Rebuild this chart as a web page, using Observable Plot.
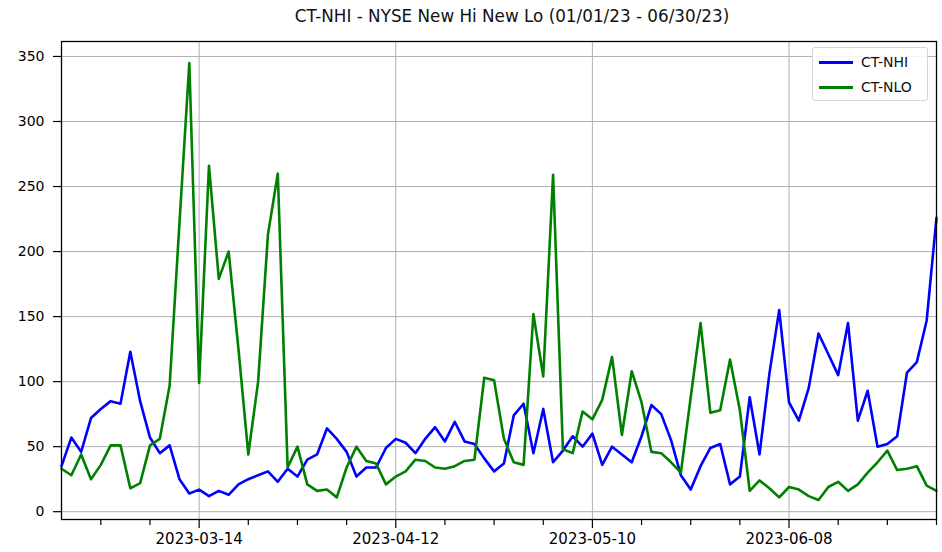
<!DOCTYPE html>
<html>
<head>
<meta charset="utf-8">
<script src="https://cdn.jsdelivr.net/npm/d3@7"></script>
<script src="https://cdn.jsdelivr.net/npm/@observablehq/plot@0.6"></script>
<style>
  html, body { margin: 0; padding: 0; background: white; }
  #wrap { position: relative; width: 942px; height: 552px; font-family: "DejaVu Sans", sans-serif; }
  #title { height: 30px; line-height: 32px; font-size: 16.8px; text-align: center; padding-left: 82px; box-sizing: border-box; width: 942px; color: #111; white-space: nowrap; }
  #legend { position: absolute; left: 812px; top: 47px; width: 116px; height: 54px; box-sizing: border-box;
            border: 1px solid #d6d6d6; border-radius: 3px; background: rgba(255,255,255,0.85); }
  .lg-line { position: absolute; left: 6px; width: 34px; height: 3px; }
  .lg-text { position: absolute; left: 48px; font-size: 14px; line-height: 16px; color: #111; }
</style>
</head>
<body>
<div id="wrap">
  <div id="title">CT-NHI - NYSE New Hi New Lo (01/01/23 - 06/30/23)</div>
  <div id="chart"></div>
  <div id="legend"></div>
</div>
<script>
// Trading days shown on the x axis
const dates = [
  "2023-02-22","2023-02-23","2023-02-24","2023-02-27","2023-02-28","2023-03-01","2023-03-02","2023-03-03",
  "2023-03-06","2023-03-07","2023-03-08","2023-03-09","2023-03-10","2023-03-13","2023-03-14","2023-03-15",
  "2023-03-16","2023-03-17","2023-03-20","2023-03-21","2023-03-22","2023-03-23","2023-03-24","2023-03-27",
  "2023-03-28","2023-03-29","2023-03-30","2023-03-31","2023-04-03","2023-04-04","2023-04-05","2023-04-06",
  "2023-04-10","2023-04-11","2023-04-12","2023-04-13","2023-04-14","2023-04-17","2023-04-18","2023-04-19",
  "2023-04-20","2023-04-21","2023-04-24","2023-04-25","2023-04-26","2023-04-27","2023-04-28","2023-05-01",
  "2023-05-02","2023-05-03","2023-05-04","2023-05-05","2023-05-08","2023-05-09","2023-05-10","2023-05-11",
  "2023-05-12","2023-05-15","2023-05-16","2023-05-17","2023-05-18","2023-05-19","2023-05-22","2023-05-23",
  "2023-05-24","2023-05-25","2023-05-26","2023-05-30","2023-05-31","2023-06-01","2023-06-02","2023-06-05",
  "2023-06-06","2023-06-07","2023-06-08","2023-06-09","2023-06-12","2023-06-13","2023-06-14","2023-06-15",
  "2023-06-16","2023-06-20","2023-06-21","2023-06-22","2023-06-23","2023-06-26","2023-06-27","2023-06-28",
  "2023-06-29","2023-06-30"
];

// CT-NHI (new highs)
const nhi = [
  35, 57, 46, 72, 79, 85, 83, 123, 85, 57, 45, 51, 25, 14, 17, 12, 16, 13, 21, 25,
  28, 31, 23, 33, 27, 40, 44, 64, 56, 46, 27, 34, 34, 49, 56, 53, 45, 56, 65, 54,
  69, 54, 52, 41, 31, 37, 74, 83, 45, 79, 38, 47, 58, 50, 60, 36, 50, 44, 38, 58,
  82, 75, 55, 28, 17, 35, 49, 52, 21, 27, 88, 44, 106, 155, 84, 70, 95, 137, 121, 105,
  145, 70, 93, 50, 52, 58, 107, 115, 147, 226
];

// CT-NLO (new lows)
const nlo = [
  33, 28, 44, 25, 36, 51, 51, 18, 22, 51, 56, 97, 222, 345, 99, 266, 179, 200, 125, 44,
  100, 213, 260, 34, 50, 21, 16, 17, 11, 34, 50, 39, 37, 21, 27, 31, 40, 39, 34, 33,
  35, 39, 40, 103, 101, 56, 38, 36, 152, 104, 259, 48, 45, 77, 71, 86, 119, 59, 108, 84,
  46, 45, 38, 30, 88, 145, 76, 78, 117, 78, 16, 24, 18, 11, 19, 17, 12, 9, 19, 23,
  16, 21, 30, 38, 47, 32, 33, 35, 20, 16
];

const seriesNames = ["CT-NHI", "CT-NLO"];
const seriesColors = ["#0000ff", "#008000"];
const majorTickLabels = ["2023-03-14", "2023-04-12", "2023-05-10", "2023-06-08"];
const yTicks = [0, 50, 100, 150, 200, 250, 300, 350];

const data = dates.map((d, i) => ({i, date: d, nhi: nhi[i], nlo: nlo[i]}));
const majorIdx = majorTickLabels.map(d => dates.indexOf(d));
const minorIdx = d3.range(0, dates.length).filter(i => (i - majorIdx[0]) % 5 === 0 && !majorIdx.includes(i));

const chart = Plot.plot({
  width: 942,
  height: 522,
  marginTop: 11,
  marginBottom: 33,
  marginLeft: 61,
  marginRight: 6,
  style: {fontFamily: "DejaVu Sans", fontSize: "14px", color: "black", background: "white", overflow: "visible"},
  x: {domain: [0, dates.length - 1]},
  y: {domain: [-6, 361.5]},
  marks: [
    Plot.gridY(yTicks, {stroke: "#b0b0b0", strokeOpacity: 1, strokeWidth: 1}),
    Plot.gridX(majorIdx, {stroke: "#b0b0b0", strokeOpacity: 1, strokeWidth: 1}),
    Plot.line(data, {x: "i", y: "nhi", stroke: seriesColors[0], strokeWidth: 2.6}),
    Plot.line(data, {x: "i", y: "nlo", stroke: seriesColors[1], strokeWidth: 2.6}),
    Plot.frame({stroke: "black", strokeWidth: 1.3}),
    Plot.axisY(yTicks, {tickSize: 8, tickPadding: 9, fontSize: 14, label: null, strokeWidth: 1.2}),
    Plot.axisX(minorIdx, {tickSize: 6, tickFormat: () => "", label: null, strokeWidth: 1.2}),
    Plot.axisX(majorIdx, {tickSize: 9, tickPadding: 5, fontSize: 15, tickFormat: i => dates[i], label: null, strokeWidth: 1.2})
  ]
});
document.getElementById("chart").appendChild(chart);

const legend = document.getElementById("legend");
seriesNames.forEach((name, k) => {
  const cy = 14 + k * 25;
  const ln = document.createElement("div");
  ln.className = "lg-line";
  ln.style.top = (cy - 1.5) + "px";
  ln.style.background = seriesColors[k];
  legend.appendChild(ln);
  const tx = document.createElement("div");
  tx.className = "lg-text";
  tx.style.top = (cy - 8) + "px";
  tx.textContent = name;
  legend.appendChild(tx);
});
</script>
</body>
</html>
